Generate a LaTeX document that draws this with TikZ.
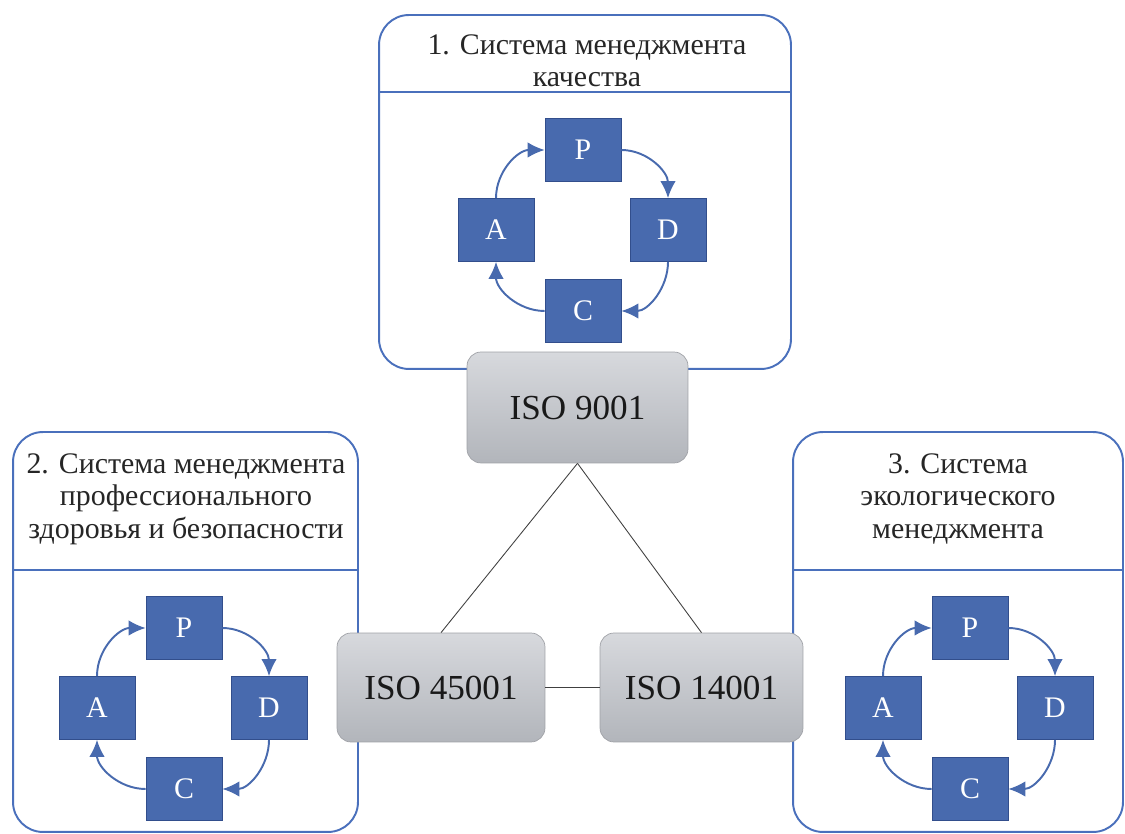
\documentclass[tikz,border=0pt]{standalone}
\usepackage{fontspec}
\setmainfont{Liberation Serif}
\usetikzlibrary{arrows.meta,positioning}
\definecolor{pdcablue}{RGB}{72,106,174}
\definecolor{pdcaedge}{RGB}{50,78,140}
\definecolor{panelblue}{RGB}{74,112,188}
\definecolor{isotop}{RGB}{215,217,221}
\definecolor{isobottom}{RGB}{178,181,187}
\definecolor{isoedge}{RGB}{160,162,167}
\tikzset{%
  panel/.style   = {shape=rectangle, draw=panelblue, line width=1.1pt,%
                    rounded corners=17pt},%
  divider/.style = {draw=panelblue, line width=0.9pt},%
  header/.style  = {align=center, text=black!85,%
                    font=\fontsize{17}{18.5}\selectfont},%
  isobox/.style  = {shape=rectangle, rounded corners=8pt, draw=isoedge,%
                    top color=isotop, bottom color=isobottom, text=black!90,%
                    font=\fontsize{20}{24}\selectfont},%
  pdca/.style    = {shape=rectangle, draw=pdcaedge, fill=pdcablue, text=white,%
                    minimum width=1.52cm, minimum height=1.26cm,%
                    font=\fontsize{17}{20}\selectfont},%
  turn/.style    = {draw=pdcablue, line width=1.1pt,%
                    -{Latex[length=3.4mm,width=3.1mm]}},%
  isolink/.style = {draw=black!75, line width=0.5pt}%
}
\newcommand\pdcacycle[3]{%
  \node[pdca] (#1p) at (#2,#3) {P};
  \node[pdca] (#1d) at ([shift={(85,-80)}]#1p) {D};
  \node[pdca] (#1c) at ([shift={(0,-161)}]#1p) {C};
  \node[pdca] (#1a) at ([shift={(-87,-80)}]#1p) {A};
  \draw[turn] (#1a.north) to[out=90,in=180] (#1p.west);
  \draw[turn] (#1p.east) to[out=0,in=90] (#1d.north);
  \draw[turn] (#1d.south) to[out=270,in=0] (#1c.east);
  \draw[turn] (#1c.west) to[out=180,in=270] (#1a.south);
}

\begin{document}
\begin{tikzpicture}[x=0.02cm,y=0.02cm]
	\useasboundingbox (0,0) rectangle (1125,834);
	\node[panel, minimum width=8.24cm, minimum height=7.08cm] (qms) at (585,642) {};
	\node[panel, minimum width=6.9cm, minimum height=8cm] (ohs) at (185.5,202) {};
	\node[panel, minimum width=6.6cm, minimum height=8cm] (ems) at (958,202) {};
	\draw[divider] ([yshift=-1.56cm]qms.north west) -- ([yshift=-1.56cm]qms.north east);
	\draw[divider] ([yshift=-2.78cm]ohs.north west) -- ([yshift=-2.78cm]ohs.north east);
	\draw[divider] ([yshift=-2.78cm]ems.north west) -- ([yshift=-2.78cm]ems.north east);
	\node[header] (qmstitle) at (587,773) {1. Система менеджмента\\качества};
	\node[header] (ohstitle) at (186,335) {2. Система менеджмента\\профессионального\\здоровья и безопасности};
	\node[header] (emstitle) at (958,335) {3. Система\\экологического\\менеджмента};
	\pdcacycle{q}{583}{684}
	\pdcacycle{o}{184}{206}
	\pdcacycle{e}{970}{206}
	\node[isobox, minimum width=4.42cm, minimum height=2.22cm] (iso9) at (577.5,426.5) {ISO 9001};
	\node[isobox, minimum width=4.16cm, minimum height=2.18cm] (iso45) at (441,146.5) {ISO 45001};
	\node[isobox, minimum width=4.06cm, minimum height=2.18cm] (iso14) at (701.5,146.5) {ISO 14001};
	\draw[isolink] (iso9.south) -- (iso45.north);
	\draw[isolink] (iso9.south) -- (iso14.north);
	\draw[isolink] (iso45.east) -- (iso14.west);
\end{tikzpicture}
\end{document}
